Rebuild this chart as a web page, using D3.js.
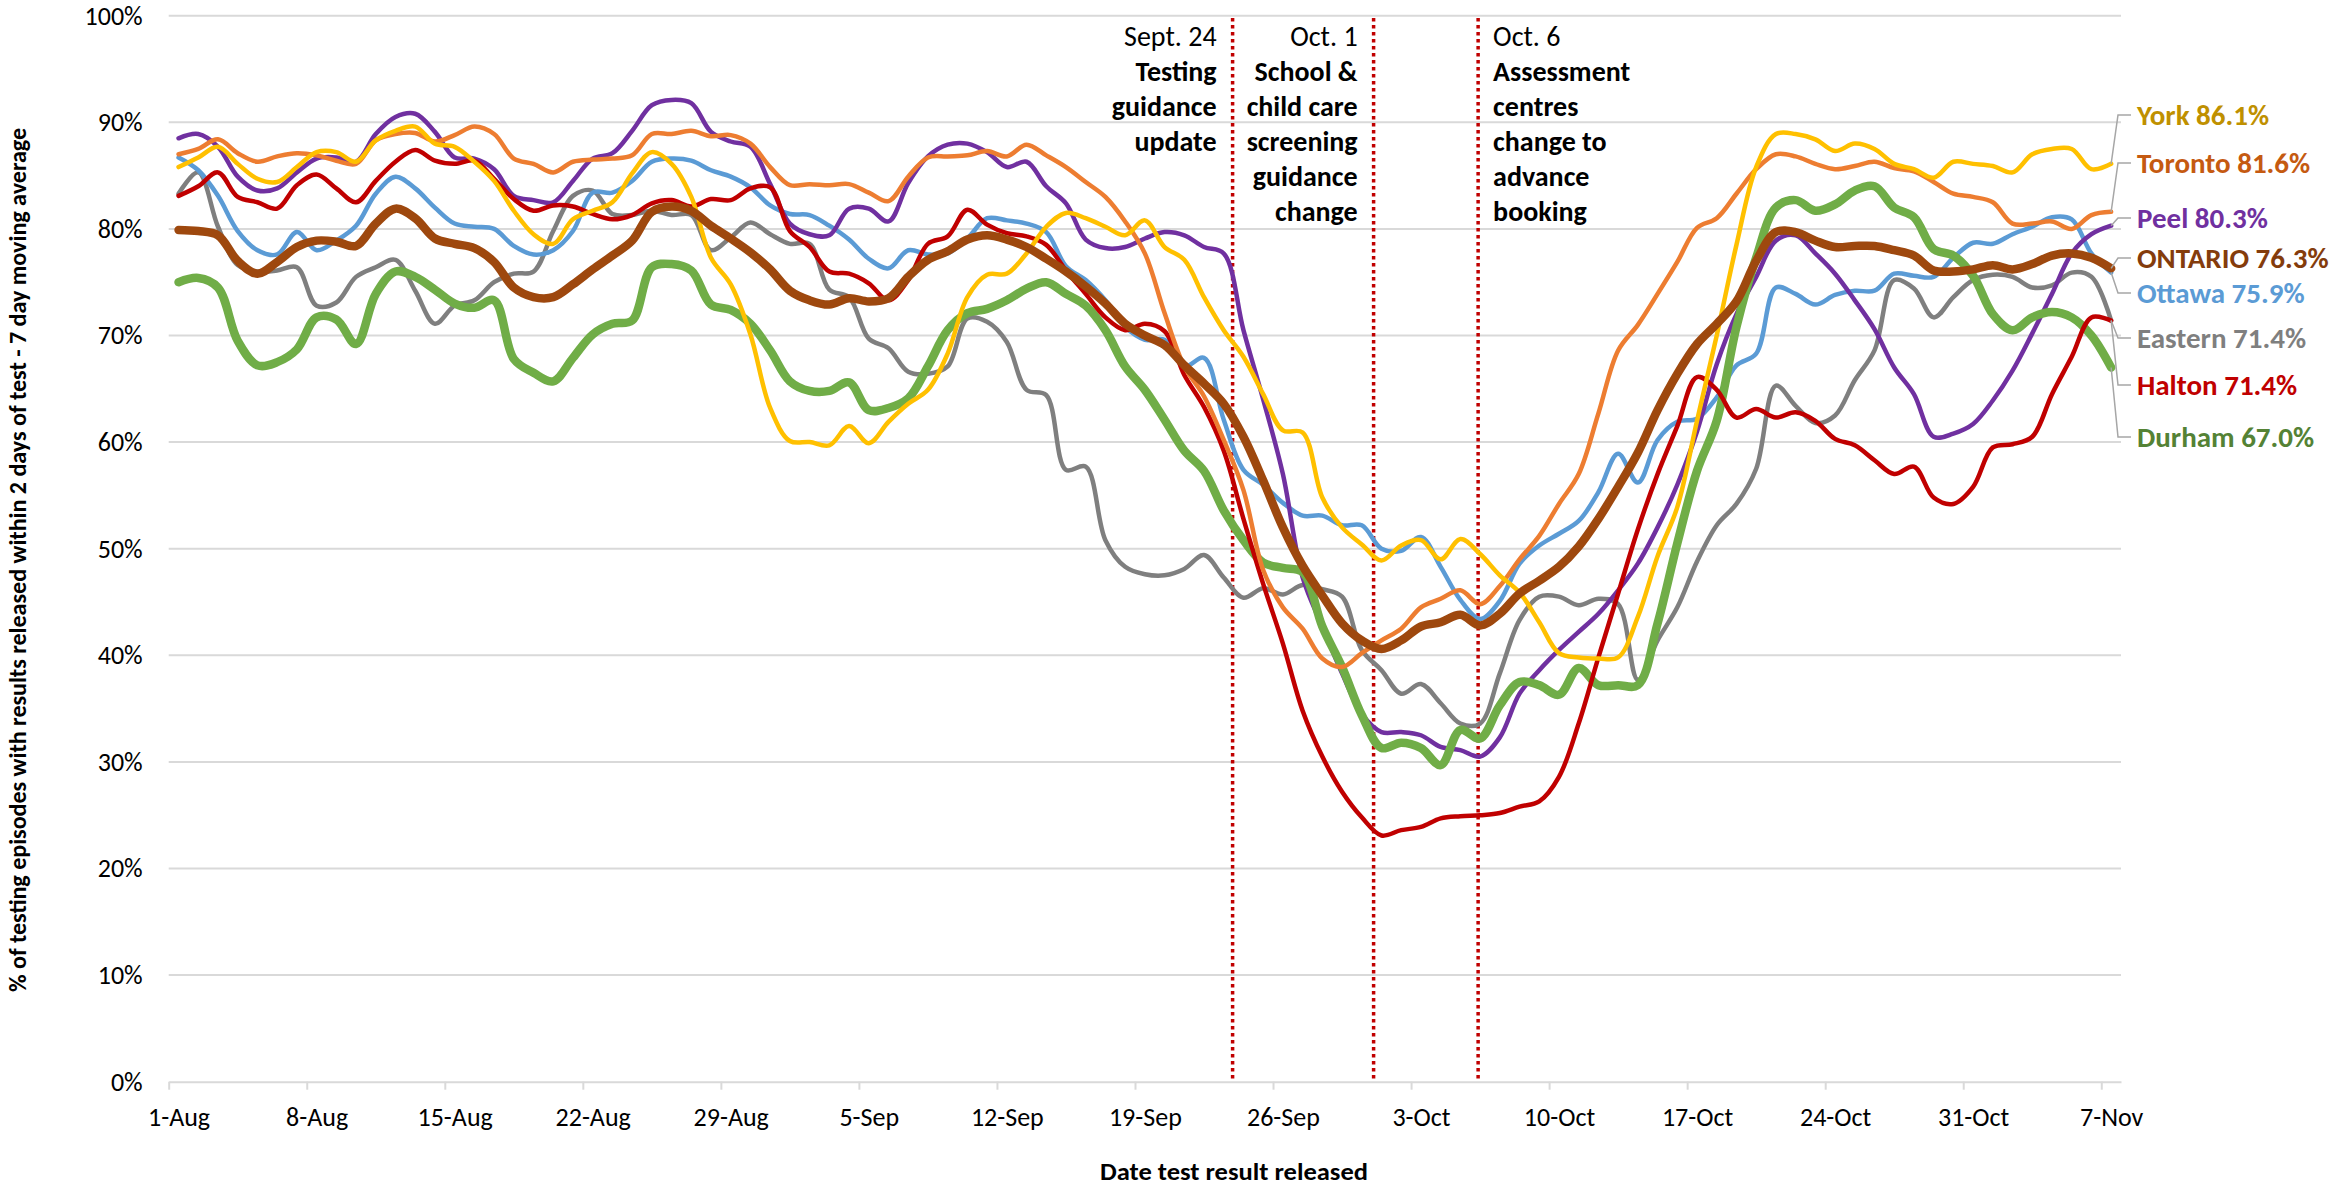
<!DOCTYPE html>
<html>
<head>
<meta charset="utf-8">
<script src="https://cdn.jsdelivr.net/npm/d3@7"></script>
<style>
  body { margin: 0; background: #fff; }
  svg text { font-family: Carlito, Lato, sans-serif; }
</style>
</head>
<body>
<div id="chart"></div>
<script>
// daily points, 1-Aug to 7-Nov
var nDays = 99;
var tickIdx = [0, 7, 14, 21, 28, 35, 42, 49, 56, 63, 70, 77, 84, 91, 98];
var tickLabels = ["1-Aug", "8-Aug", "15-Aug", "22-Aug", "29-Aug", "5-Sep", "12-Sep", "19-Sep",
                  "26-Sep", "3-Oct", "10-Oct", "17-Oct", "24-Oct", "31-Oct", "7-Nov"];
var yTicks = [0, 10, 20, 30, 40, 50, 60, 70, 80, 90, 100];

// % released within 2 days, 7 day moving average
var york = [85.8, 86.7, 87.7, 86.1, 84.7, 84.4, 85.8, 87.2, 87.2, 86.3,
  88.3, 89.2, 89.6, 88.0, 87.7, 86.3, 84.5, 81.7, 79.5, 78.6,
  80.9, 81.7, 82.5, 85.2, 87.2, 86.1, 83.0, 77.3, 74.8, 70.1,
  63.2, 60.1, 60.0, 59.7, 61.5, 59.9, 61.9, 63.6, 64.9, 68.3,
  73.6, 75.7, 75.8, 77.7, 80.2, 81.5, 81.0, 80.2, 79.4, 80.8,
  78.3, 77.1, 73.6, 70.5, 68.0, 64.5, 61.1, 60.9, 54.8, 52.0,
  50.4, 48.9, 50.3, 50.8, 49.0, 50.9, 49.5, 47.5, 45.9, 43.1,
  40.2, 39.8, 39.7, 39.8, 43.6, 49.3, 53.9, 62.0, 70.0, 78.5,
  85.8, 88.9, 88.9, 88.4, 87.3, 88.0, 87.5, 86.1, 85.6, 84.8,
  86.3, 86.1, 85.9, 85.3, 87.0, 87.5, 87.5, 85.6, 86.1];
var toronto = [87.0, 87.5, 88.4, 87.1, 86.3, 86.8, 87.1, 86.9, 86.4, 86.1,
  88.3, 88.9, 89.0, 88.2, 88.8, 89.6, 88.9, 86.6, 86.1, 85.3,
  86.3, 86.5, 86.6, 86.9, 88.9, 88.9, 89.2, 88.7, 88.8, 88.0,
  85.8, 84.1, 84.2, 84.1, 84.2, 83.4, 82.6, 84.9, 86.7, 86.8,
  86.9, 87.3, 86.8, 87.9, 86.9, 85.8, 84.4, 83.0, 80.7, 77.7,
  72.1, 67.1, 64.3, 60.2, 55.5, 48.0, 44.5, 42.5, 39.7, 38.9,
  40.2, 41.4, 42.5, 44.5, 45.3, 46.1, 44.8, 46.5, 49.0, 51.2,
  54.2, 57.0, 62.7, 68.6, 71.0, 73.9, 76.9, 80.1, 81.0, 83.3,
  85.6, 87.0, 86.8, 86.1, 85.6, 85.9, 86.3, 85.7, 85.4, 84.4,
  83.3, 83.0, 82.5, 80.5, 80.5, 80.7, 80.0, 81.3, 81.6];
var peel = [88.5, 88.9, 87.7, 84.9, 83.6, 83.8, 85.3, 86.6, 86.7, 86.3,
  88.9, 90.5, 90.8, 89.1, 86.7, 86.6, 85.6, 83.1, 82.7, 82.5,
  84.5, 86.6, 87.1, 89.2, 91.6, 92.1, 91.8, 89.1, 88.2, 87.7,
  84.2, 80.5, 79.5, 79.4, 81.9, 81.9, 80.7, 84.3, 86.8, 87.9,
  88.0, 87.2, 85.8, 86.3, 84.0, 82.4, 79.0, 78.2, 78.3, 79.1,
  79.7, 79.4, 78.3, 77.7, 70.5, 64.0, 57.0, 47.3, 42.7, 38.3,
  34.5, 32.8, 32.8, 32.5, 31.4, 31.1, 30.5, 32.3, 36.4, 38.6,
  40.5, 42.2, 43.9, 46.1, 48.6, 52.0, 56.0, 61.0, 67.3, 72.0,
  75.5, 78.9, 79.4, 77.7, 75.8, 73.3, 70.6, 67.0, 64.5, 60.5,
  60.8, 61.7, 63.9, 66.7, 70.2, 73.9, 77.7, 79.5, 80.3];
var ontario = [79.9, 79.8, 79.4, 77.0, 75.8, 76.9, 78.3, 78.9, 78.8, 78.4,
  80.5, 81.9, 81.0, 79.1, 78.6, 78.2, 76.9, 74.5, 73.6, 73.6,
  74.8, 76.2, 77.5, 78.9, 81.6, 82.1, 81.7, 80.3, 79.1, 77.8,
  76.2, 74.2, 73.3, 72.9, 73.5, 73.2, 73.5, 75.5, 77.1, 77.9,
  79.0, 79.4, 79.0, 78.3, 77.2, 76.0, 74.6, 73.0, 71.1, 70.0,
  69.1, 67.2, 65.5, 63.6, 60.5, 56.4, 52.0, 48.4, 45.6, 43.0,
  41.4, 40.6, 41.4, 42.7, 43.1, 43.8, 42.8, 43.9, 45.8, 47.0,
  48.3, 50.2, 52.8, 55.8, 59.0, 63.0, 66.4, 69.2, 71.1, 73.2,
  77.0, 79.7, 79.7, 78.9, 78.3, 78.4, 78.4, 78.0, 77.5, 76.1,
  76.0, 76.2, 76.6, 76.2, 76.7, 77.5, 77.7, 77.3, 76.3];
var ottawa = [86.7, 85.5, 83.1, 79.8, 78.0, 77.6, 79.7, 78.0, 78.9, 80.3,
  83.3, 84.9, 83.8, 82.0, 80.5, 80.2, 80.0, 78.4, 77.6, 78.0,
  79.8, 83.4, 83.4, 84.5, 86.3, 86.6, 86.4, 85.5, 84.9, 83.9,
  82.2, 81.4, 81.3, 80.3, 79.0, 77.2, 76.3, 78.0, 77.6, 77.7,
  79.1, 81.0, 80.8, 80.5, 79.7, 76.5, 75.2, 73.3, 70.8, 69.6,
  69.6, 67.1, 67.9, 62.1, 57.4, 56.0, 54.3, 53.1, 53.1, 52.2,
  52.2, 50.0, 49.8, 51.1, 48.3, 45.2, 43.4, 45.1, 48.6, 50.3,
  51.4, 52.6, 55.3, 58.9, 56.2, 60.2, 61.9, 62.2, 64.2, 67.2,
  68.3, 74.5, 73.9, 72.9, 73.8, 74.2, 74.2, 75.8, 75.6, 75.5,
  77.3, 78.7, 78.6, 79.5, 80.2, 81.1, 80.9, 77.7, 75.9];
var eastern = [83.3, 85.3, 80.2, 76.6, 76.0, 76.1, 76.4, 72.8, 73.1, 75.5,
  76.4, 77.1, 74.2, 71.1, 72.8, 73.3, 75.0, 75.8, 76.0, 79.8,
  83.1, 83.6, 81.4, 81.3, 81.7, 81.3, 81.3, 78.0, 79.2, 80.6,
  79.5, 78.6, 78.6, 74.3, 73.6, 69.7, 68.8, 66.6, 66.4, 67.1,
  71.6, 71.3, 69.4, 64.9, 64.4, 57.4, 57.7, 50.8, 48.3, 47.6,
  47.5, 48.1, 49.4, 47.3, 45.4, 46.3, 45.7, 46.6, 46.2, 45.5,
  40.5, 38.6, 36.4, 37.3, 35.5, 33.6, 33.6, 38.3, 43.3, 45.5,
  45.5, 44.7, 45.3, 44.8, 37.7, 41.4, 44.5, 48.8, 52.2, 54.2,
  57.5, 65.3, 63.4, 61.8, 62.5, 65.8, 68.6, 75.2, 74.4, 71.7,
  73.6, 75.2, 75.7, 75.5, 74.5, 74.7, 75.9, 75.5, 71.4];
var halton = [83.1, 84.0, 85.3, 83.0, 82.5, 81.9, 84.1, 85.1, 83.8, 82.5,
  84.5, 86.3, 87.4, 86.4, 86.1, 86.4, 84.7, 82.8, 81.7, 82.2,
  82.1, 81.4, 80.9, 81.3, 82.4, 82.7, 82.1, 82.8, 82.7, 83.8,
  83.9, 79.8, 78.3, 76.0, 75.8, 74.9, 73.3, 75.2, 78.6, 79.3,
  81.8, 80.4, 79.6, 79.3, 78.5, 76.1, 73.9, 71.7, 70.5, 71.1,
  70.4, 66.3, 63.3, 59.2, 52.8, 46.7, 41.1, 34.8, 30.5, 27.2,
  24.8, 23.1, 23.6, 23.9, 24.7, 24.9, 25.0, 25.2, 25.8, 26.3,
  28.6, 33.6, 39.8, 45.8, 51.8, 57.0, 61.5, 66.1, 64.9, 62.3,
  63.1, 62.3, 62.8, 62.0, 60.3, 59.7, 58.3, 57.0, 57.7, 54.8,
  54.2, 55.8, 59.5, 59.8, 60.5, 64.5, 68.0, 71.7, 71.4];
var durham = [75.0, 75.4, 74.5, 69.5, 67.2, 67.5, 68.7, 71.7, 71.5, 69.2,
  73.9, 76.0, 75.5, 74.3, 73.0, 72.6, 73.3, 67.8, 66.5, 65.7,
  67.9, 70.1, 71.1, 71.4, 76.4, 76.7, 76.1, 72.9, 72.4, 71.1,
  68.6, 65.7, 64.8, 64.8, 65.6, 63.0, 63.2, 64.1, 67.1, 70.5,
  72.1, 72.5, 73.3, 74.4, 75.0, 73.9, 72.8, 70.5, 67.1, 64.9,
  62.1, 59.2, 57.3, 53.6, 50.8, 48.7, 48.2, 47.8, 42.7, 38.9,
  34.4, 31.3, 31.8, 31.3, 29.7, 33.0, 32.2, 35.3, 37.5, 37.2,
  36.3, 38.8, 37.2, 37.2, 37.2, 43.0, 50.5, 57.3, 62.0, 70.8,
  77.3, 82.0, 82.7, 81.7, 82.3, 83.6, 84.0, 82.0, 81.1, 78.1,
  77.5, 75.6, 72.0, 70.5, 71.7, 72.2, 71.7, 70.0, 67.0];

// event markers (day index from 1-Aug)
var eventDays = [53.45, 60.6, 65.9];
var eventDates = ["Sept. 24", "Oct. 1", "Oct. 6"];
var eventText = [["Testing", "guidance", "update"],
                 ["School &", "child care", "screening", "guidance", "change"],
                 ["Assessment", "centres", "change to", "advance", "booking"]];

// series setup, drawn in this order
var series = [
  {name: "Eastern", values: eastern, color: "#7F7F7F", label: "#7F7F7F", w: 4.5},
  {name: "Ottawa", values: ottawa, color: "#5B9BD5", label: "#5B9BD5", w: 4.5},
  {name: "Peel", values: peel, color: "#7030A0", label: "#7030A0", w: 4.5},
  {name: "Durham", values: durham, color: "#70AD47", label: "#548235", w: 8.5},
  {name: "Halton", values: halton, color: "#C00000", label: "#C00000", w: 4.5},
  {name: "Toronto", values: toronto, color: "#ED7D31", label: "#C55A11", w: 4.5},
  {name: "York", values: york, color: "#FFC000", label: "#BF9000", w: 4.5},
  {name: "ONTARIO", values: ontario, color: "#9E480E", label: "#843C0C", w: 8.5}
];

// where the end labels sit (pixels)
var labelY = {York: 115, Toronto: 163, Peel: 218, ONTARIO: 258, Ottawa: 293,
              Eastern: 338, Halton: 385, Durham: 437};
var labelX = 2137;

var svg = d3.select("#chart")
  .append("svg")
    .attr("width", 2336)
    .attr("height", 1189);

var x = d3.scaleLinear()
  .domain([-0.5, nDays - 0.5])
  .range([168.7, 2121]);
var y = d3.scaleLinear()
  .domain([0, 100])
  .range([1081.7, 15.7]);
var halfBand = (x(1) - x(0)) / 2;

// gridlines
svg.append("g")
  .selectAll("line")
  .data(yTicks.filter(function(d) { return d > 0; }))
  .enter()
  .append("line")
    .attr("x1", x(-0.5))
    .attr("x2", x(nDays - 0.5))
    .attr("y1", function(d) { return y(d); })
    .attr("y2", function(d) { return y(d); })
    .attr("stroke", "#D9D9D9")
    .attr("stroke-width", 2);

// y axis labels
var yAxis = svg.append("g")
  .attr("transform", "translate(" + x(-0.5) + ",0)")
  .call(d3.axisLeft(y).tickValues(yTicks).tickFormat(function(d) { return d + "%"; })
    .tickSize(0).tickPadding(26));
yAxis.select(".domain").remove();
yAxis.selectAll("text")
  .style("font-size", "26px")
  .style("font-family", "Carlito, Lato, sans-serif")
  .attr("fill", "#000");

// x axis, ticks between days
var xAxis = svg.append("g")
  .attr("transform", "translate(0," + y(0) + ")")
  .call(d3.axisBottom(x).tickValues(tickIdx)
    .tickFormat(function(d, i) { return tickLabels[i]; })
    .tickSize(8).tickSizeOuter(0).tickPadding(18));
xAxis.select(".domain").attr("stroke", "#D9D9D9").attr("stroke-width", 2);
xAxis.selectAll(".tick line")
  .attr("stroke", "#D9D9D9")
  .attr("stroke-width", 2)
  .attr("transform", "translate(" + (-halfBand) + ",0)");
xAxis.selectAll("text")
  .style("font-size", "26px")
  .style("font-family", "Carlito, Lato, sans-serif")
  .attr("fill", "#000");

// axis titles
svg.append("text")
  .attr("x", 1234)
  .attr("y", 1180)
  .attr("text-anchor", "middle")
  .attr("textLength", 268)
  .attr("lengthAdjust", "spacingAndGlyphs")
  .style("font-size", "25px")
  .style("font-weight", "bold")
  .text("Date test result released");
svg.append("text")
  .attr("transform", "translate(26,560) rotate(-90)")
  .attr("text-anchor", "middle")
  .attr("textLength", 864)
  .attr("lengthAdjust", "spacingAndGlyphs")
  .style("font-size", "24px")
  .style("font-weight", "bold")
  .text("% of testing episodes with results released within 2 days of test - 7 day moving average");

// event lines and notes
eventDays.forEach(function(d, i) {
  var ex = x(d);
  svg.append("line")
    .attr("x1", ex).attr("x2", ex)
    .attr("y1", 18).attr("y2", y(0))
    .attr("stroke", "#C00000")
    .attr("stroke-width", 3.5)
    .attr("stroke-dasharray", "3.5,3.5");
  var right = i == 2;
  var note = svg.append("text")
    .attr("text-anchor", right ? "start" : "end")
    .style("font-size", "28px");
  var lines = [eventDates[i]].concat(eventText[i]);
  lines.forEach(function(t, k) {
    note.append("tspan")
      .attr("x", right ? ex + 15 : ex - 16)
      .attr("y", 46 + 35 * k)
      .style("font-weight", k == 0 ? "normal" : "bold")
      .text(t);
  });
});

// lines
var line = d3.line()
  .x(function(d, i) { return x(i); })
  .y(function(d) { return y(d); })
  .curve(d3.curveCatmullRom.alpha(0.5));

svg.append("g")
  .selectAll("path")
  .data(series)
  .enter()
  .append("path")
    .attr("d", function(s) { return line(s.values); })
    .attr("fill", "none")
    .attr("stroke", function(s) { return s.color; })
    .attr("stroke-width", function(s) { return s.w; })
    .attr("stroke-linejoin", "round")
    .attr("stroke-linecap", "round");

// leader lines and end labels
series.forEach(function(s) {
  var last = s.values[s.values.length - 1];
  var px = x(s.values.length - 1), py = y(last), ly = labelY[s.name];
  svg.append("polyline")
    .attr("points", [[px, py], [2118, ly], [labelX - 6, ly]].join(" "))
    .attr("fill", "none")
    .attr("stroke", "#A6A6A6")
    .attr("stroke-width", 1.5);
  svg.append("text")
    .attr("x", labelX)
    .attr("y", ly)
    .attr("dy", "0.35em")
    .attr("fill", s.label)
    .style("font-size", "29px")
    .style("font-weight", "bold")
    .text(s.name + " " + last.toFixed(1) + "%");
});
</script>
</body>
</html>
